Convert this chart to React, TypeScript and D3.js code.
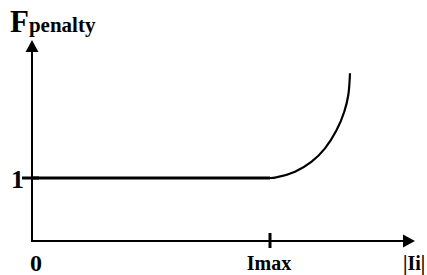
import { useEffect, useRef } from 'react';
import * as d3 from 'd3';

// penalty curve (x in units of Imax, y in units of F)
const flatX = [0, 1];
const flatY = [1, 1];
const curveX = [1.0, 1.021, 1.105, 1.175, 1.231, 1.28, 1.312, 1.329, 1.336];
const curveY = [1.0, 1.005, 1.1, 1.259, 1.471, 1.762, 2.052, 2.317, 2.662];

const yTicks = [1];
const yTickLabels = ['1'];
const xTicks = [1];
const xTickLabels = ['Imax'];

export default function App() {
  const ref = useRef<HTMLDivElement>(null);
  useEffect(() => {
    const width = 427;
    const height = 275;

    const x = d3.scaleLinear().domain([0, 1]).range([32, 270]);
    const y = d3.scaleLinear().domain([0, 1]).range([241, 178]);

    const svg = d3.create('svg')
      .attr('width', width)
      .attr('height', height)
      .style('display', 'block')
      .style('font-family', '"Liberation Serif", "Times New Roman", serif')
      .style('font-weight', 'bold');

    const x0 = x(0);
    const y0 = y(0);

    // axes
    svg.append('line')
      .attr('x1', x0).attr('y1', y0).attr('x2', x0).attr('y2', 48)
      .attr('stroke', '#000').attr('stroke-width', 2);
    svg.append('path')
      .attr('d', `M${x0},40 L${x0 - 6.5},52 L${x0 + 6.5},52 Z`)
      .attr('fill', '#000');

    svg.append('line')
      .attr('x1', x0 - 1).attr('y1', y0).attr('x2', 406).attr('y2', y0)
      .attr('stroke', '#000').attr('stroke-width', 2);
    svg.append('path')
      .attr('d', `M415,${y0} L403,${y0 - 6.5} L403,${y0 + 6.5} Z`)
      .attr('fill', '#000');

    // ticks
    svg.append('g').selectAll('line')
      .data(yTicks)
      .join('line')
      .attr('x1', x0 - 10).attr('x2', x0 + 7)
      .attr('y1', (d) => y(d)).attr('y2', (d) => y(d))
      .attr('stroke', '#000').attr('stroke-width', 3);
    svg.append('g').selectAll('text')
      .data(yTicks)
      .join('text')
      .attr('x', 11)
      .attr('y', (d) => y(d) + 10)
      .attr('font-size', 26)
      .text((_, i) => yTickLabels[i]);

    svg.append('g').selectAll('line')
      .data(xTicks)
      .join('line')
      .attr('x1', (d) => x(d)).attr('x2', (d) => x(d))
      .attr('y1', y0 - 8).attr('y2', y0 + 7)
      .attr('stroke', '#000').attr('stroke-width', 3);
    svg.append('g').selectAll('text')
      .data(xTicks)
      .join('text')
      .attr('x', (d) => x(d) - 1)
      .attr('y', 270)
      .attr('text-anchor', 'middle')
      .attr('font-size', 20)
      .text((_, i) => xTickLabels[i]);

    svg.append('text')
      .attr('x', 30).attr('y', 271)
      .attr('font-size', 24)
      .text('0');

    svg.append('text')
      .attr('x', 403).attr('y', 270)
      .attr('font-size', 20)
      .text('|Ii|');

    // y label
    const lbl = svg.append('text').attr('x', 10).attr('y', 32);
    lbl.append('tspan').attr('font-size', 31).text('F');
    lbl.append('tspan').attr('font-size', 21).text('penalty');

    // penalty function
    const line = d3.line<[number, number]>()
      .x((d) => x(d[0]))
      .y((d) => y(d[1]));

    svg.append('path')
      .datum(flatX.map((v, i) => [v, flatY[i]] as [number, number]))
      .attr('d', line)
      .attr('fill', 'none')
      .attr('stroke', '#000')
      .attr('stroke-width', 3);

    svg.append('path')
      .datum(curveX.map((v, i) => [v, curveY[i]] as [number, number]))
      .attr('d', line.curve(d3.curveCatmullRom.alpha(0.5)))
      .attr('fill', 'none')
      .attr('stroke', '#000')
      .attr('stroke-width', 2.2);

    const node = svg.node()!;
    ref.current?.append(node);
    return () => {
      node.remove();
    };
  }, []);

  return (
    <div ref={ref} style={{ position: 'absolute', left: 0, top: 0 }}>
    </div>
  );
}
